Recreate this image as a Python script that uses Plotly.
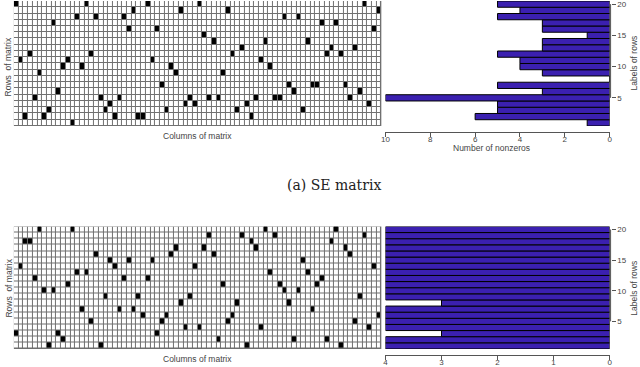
import plotly.graph_objects as go

W, H = 640, 367

n_rows = 20
n_cols = 78
row_labels = list(range(1, n_rows + 1))
col_index = list(range(n_cols))

# Row label (1 = bottom row, 20 = top row) of the single nonzero in each column
se_col_rows = [20, 11, 2, 12, 5, 9, 2, 3, 17, 6,
               10, 11, 1, 18, 10, 20, 12, 18, 5, 3,
               4, 2, 5, 18, 16, 19, 2, 2, 20, 11,
               16, 7, 3, 10, 9, 19, 4, 5, 4, 20,
               15, 5, 14, 5, 9, 19, 12, 3, 13, 4,
               2, 5, 11, 14, 10, 5, 5, 18, 7, 6,
               18, 3, 14, 7, 7, 17, 12, 13, 17, 12,
               7, 5, 13, 6, 20, 4, 16, 19]

new_col_rows = [3, 14, 18, 18, 12, 20, 10, 1, 10, 3,
                2, 11, 20, 13, 7, 13, 5, 16, 1, 9,
                15, 14, 7, 12, 15, 7, 9, 6, 12, 15,
                3, 5, 6, 16, 17, 8, 4, 9, 14, 4,
                17, 19, 16, 2, 11, 5, 6, 8, 19, 1,
                18, 17, 4, 20, 13, 19, 11, 10, 8, 2,
                10, 15, 13, 7, 11, 12, 2, 18, 20, 1,
                17, 16, 5, 9, 19, 4, 14, 6]

# Number of nonzeros per row (rows 1..20)
se_nnz = [1, 6, 5, 5, 10, 3, 5, 0, 3, 4, 4, 5, 3, 3, 1, 3, 3, 5, 4, 5]
new_nnz = [4, 4, 3, 4, 4, 4, 4, 3, 4, 4, 4, 4, 4, 4, 4, 4, 4, 4, 4, 4]

top_ticks = [0, 2, 4, 6, 8, 10]
bot_ticks = [0, 1, 2, 3, 4]
y_ticks = [5, 10, 15, 20]

BAR = "#3b20b0"
GRID = "#707070"
TXT = "#444444"
FONT = "Liberation Sans"


def build_z(col_rows):
    return [[1 if col_rows[c] == r else 0 for c in col_index] for r in row_labels]


def px_x(p):
    return p / W


def px_y(p):
    return 1 - p / H


mat_dom = [px_x(10), px_x(381.5)]
bar_dom = [px_x(385.7), px_x(612.3)]
top_dom = [px_y(126), px_y(0)]
bot_dom = [px_y(350.8), px_y(227.3)]

fig = go.Figure()

cs = [[0, "white"], [1, "black"]]
fig.add_trace(go.Heatmap(z=build_z(se_col_rows), x=col_index, y=row_labels,
                         colorscale=cs, zmin=0, zmax=1, showscale=False,
                         xgap=1, ygap=1, xaxis="x", yaxis="y", hoverinfo="skip"))
fig.add_trace(go.Heatmap(z=build_z(new_col_rows), x=col_index, y=row_labels,
                         colorscale=cs, zmin=0, zmax=1, showscale=False,
                         xgap=1, ygap=1, xaxis="x3", yaxis="y3", hoverinfo="skip"))

fig.add_trace(go.Bar(x=se_nnz, y=row_labels, orientation="h", width=1,
                     marker=dict(color=BAR, line=dict(color="black", width=1)),
                     xaxis="x2", yaxis="y2", hoverinfo="skip"))
fig.add_trace(go.Bar(x=new_nnz, y=row_labels, orientation="h", width=1,
                     marker=dict(color=BAR, line=dict(color="black", width=1)),
                     xaxis="x4", yaxis="y4", hoverinfo="skip"))

hidden = dict(visible=False, showgrid=False, zeroline=False)
tickfont = dict(family=FONT, size=8, color=TXT)


def bar_xaxis(dom, rng, ticks, pos):
    return dict(domain=dom, range=rng, tickvals=ticks, ticks="outside", ticklen=4,
                tickcolor="#555", showline=True, linecolor="#555", linewidth=1,
                showgrid=False, zeroline=False, anchor="free", position=pos,
                tickfont=tickfont, ticklabelstandoff=-4, ticklabeloverflow="allow")


def bar_yaxis(dom):
    return dict(domain=dom, range=[0.5, 20.5], tickvals=y_ticks, ticks="outside",
                ticklen=4, tickcolor="#555", side="right", anchor="free",
                position=px_x(613.3), showline=False, showgrid=False,
                zeroline=False, tickfont=tickfont, ticklabeloverflow="allow")


fig.update_layout(
    width=W, height=H, margin=dict(l=0, r=0, t=0, b=0),
    paper_bgcolor="white", plot_bgcolor="white", showlegend=False, bargap=0,
    hovermode=False,
    xaxis=dict(domain=mat_dom, range=[-0.5, n_cols - 0.5], **hidden),
    yaxis=dict(domain=top_dom, range=[0.5, 20.5], **hidden),
    xaxis3=dict(domain=mat_dom, range=[-0.5, n_cols - 0.5], anchor="y3", **hidden),
    yaxis3=dict(domain=bot_dom, range=[0.5, 20.5], anchor="x3", **hidden),
    xaxis2=bar_xaxis(bar_dom, [10, 0], top_ticks, px_y(131.7)),
    yaxis2=bar_yaxis(top_dom),
    xaxis4=bar_xaxis(bar_dom, [4, 0], bot_ticks, px_y(356.5)),
    yaxis4=bar_yaxis(bot_dom),
)

shapes = []
for xr, yr in (("x", "y"), ("x3", "y3")):
    shapes.append(dict(type="rect", xref=xr + " domain", yref=yr + " domain",
                       x0=0, x1=1, y0=0, y1=1, fillcolor=GRID,
                       line=dict(width=0), layer="below"))
for yr in ("y2", "y4"):
    shapes.append(dict(type="line", xref="paper", yref=yr, x0=px_x(613.3),
                       x1=px_x(613.3), y0=5, y1=20,
                       line=dict(color="#555", width=1)))
fig.update_layout(shapes=shapes)

lab = dict(family=FONT, size=8.5, color=TXT)
ann = [
    dict(text="Rows  of matrix", x=px_x(5), y=px_y(66), textangle=-90),
    dict(text="Columns of matrix", x=px_x(196), y=px_y(136)),
    dict(text="Number of nonzeros", x=px_x(493), y=px_y(148.5)),
    dict(text="Labels of rows", x=px_x(637), y=px_y(63), textangle=-90),
    dict(text="Rows  of matrix", x=px_x(5), y=px_y(289), textangle=-90),
    dict(text="Columns of matrix", x=px_x(196), y=px_y(360.5)),
    dict(text="Labels of rows", x=px_x(637), y=px_y(290), textangle=-90),
]
annotations = []
for a in ann:
    a.update(xref="paper", yref="paper", showarrow=False, xanchor="center",
             yanchor="middle", font=lab)
    annotations.append(a)
annotations.append(dict(text="(a) SE matrix", x=px_x(334), y=px_y(186),
                        xref="paper", yref="paper", showarrow=False,
                        xanchor="center", yanchor="middle",
                        font=dict(family="DejaVu Serif", size=14, color="#222")))
fig.update_layout(annotations=annotations)

fig.write_html("out.html", config={"displayModeBar": False, "staticPlot": True},
               post_script="document.body.style.margin='0px';"
                           "document.body.style.padding='0px';")
